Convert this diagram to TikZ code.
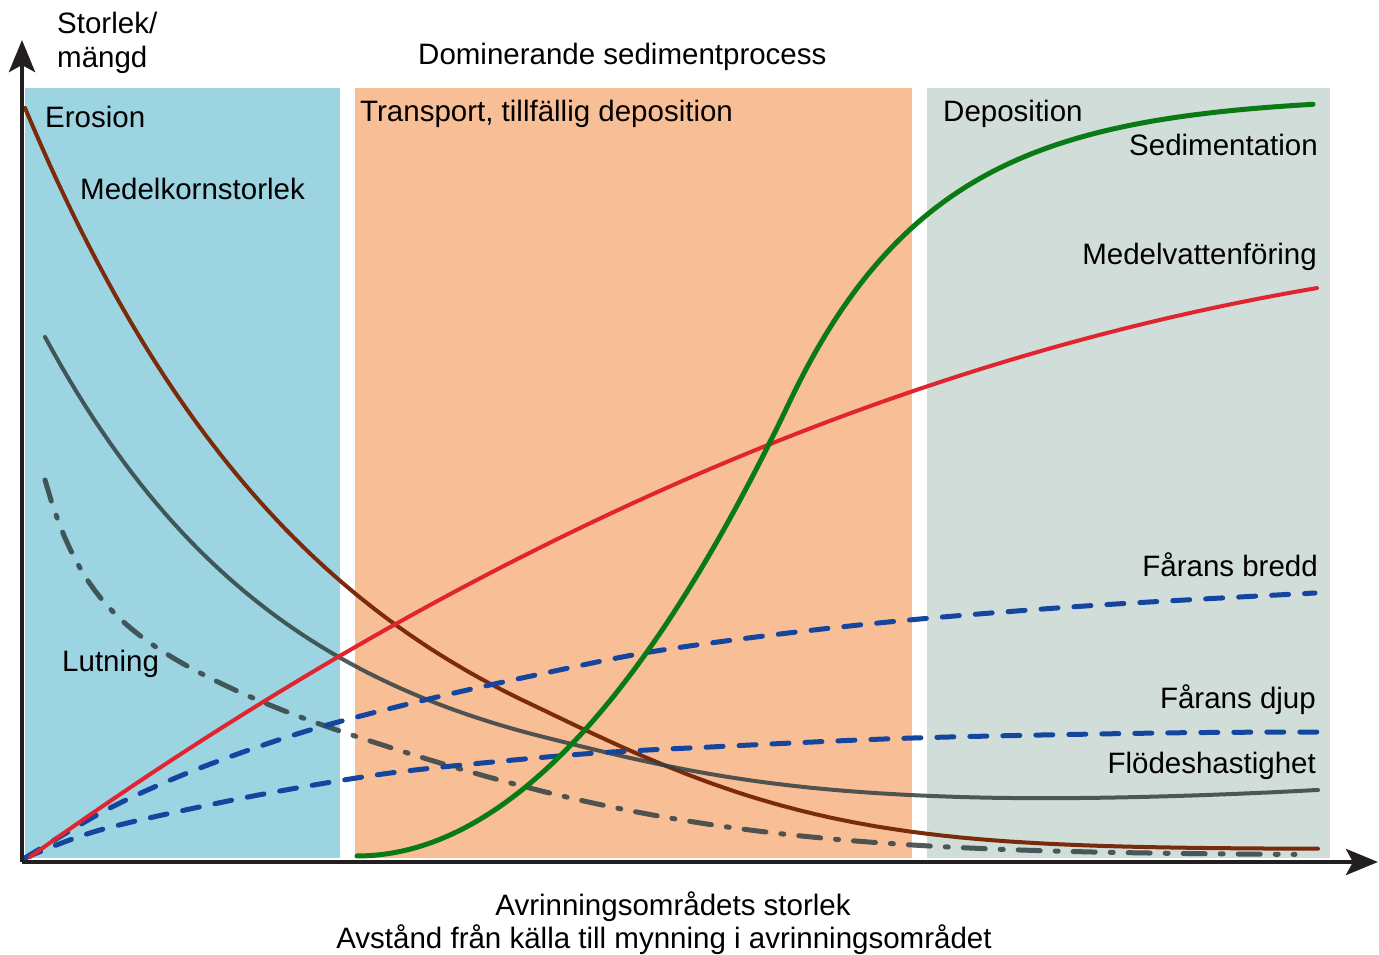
\documentclass[tikz,border=0pt]{standalone}
\usepackage{fontspec}
\setmainfont{Liberation Sans}
\usetikzlibrary{arrows.meta}
\definecolor{panelblue}{RGB}{157,212,225}
\definecolor{panelorange}{RGB}{248,191,150}
\definecolor{panelgray}{RGB}{209,221,216}
\definecolor{axiscol}{RGB}{35,31,32}
\definecolor{browncol}{RGB}{123,42,12}
\definecolor{slatecol}{RGB}{50,64,66}
\definecolor{redcol}{RGB}{224,36,48}
\definecolor{greencol}{RGB}{10,122,20}
\definecolor{bluecol}{RGB}{20,70,160}
\tikzset{
  lbl/.style={inner sep=0pt, font=\fontsize{29.5}{34}\selectfont, text=black},
  axisline/.style={draw=axiscol, line width=4.5pt, -{Stealth[length=32pt,width=26pt,inset=7pt]}},
  curve/.style={line width=4pt, line cap=round, line join=round},
  dashblue/.style={curve, draw=bluecol, line width=5pt, dash pattern=on 17pt off 16pt},
  dashdot/.style={curve, draw=slatecol, opacity=0.85, line width=5pt, dash pattern=on 22pt off 15pt on 3pt off 15pt},
}
\begin{document}
\begin{tikzpicture}[x=1pt,y=-1pt]
\useasboundingbox (0,0) rectangle (1379,955);
% panels
\fill[panelblue] (25,88) rectangle (340,858);
\fill[panelorange] (355,88) rectangle (912,858);
\fill[panelgray] (927,88) rectangle (1330,858);
% Medelkornstorlek
\draw[curve, draw=browncol] plot[domain=25:1318, samples=160, variable=\x] (\x, {849-741*exp(-((\x-25)/310+(max(\x-525,0)/408)^2))});
% Flodeshastighet
\draw[curve, draw=slatecol, opacity=0.85] plot[domain=45:1318, samples=160, variable=\x] (\x, {800-463*exp(-((\x-45)/250+(max(\x-545,0)/354)^2))-(max(\x-950,0)/116)^2});
% Lutning
\draw[dashdot] plot[domain=45:1295, samples=200, variable=\x] (\x, {855-100*exp(-min((\x-45)/35,15))-275*exp(-((\x-45)/370+(max(\x-345,0)/577)^2))});
% Farans bredd
\draw[dashblue] plot[smooth, tension=0.55] coordinates {(25,858) (110,808) (200,768) (310,730) (433,698) (550,672) (650,652) (780,634) (920,619) (1100,605) (1315,593)};
% Farans djup
\draw[dashblue] plot[smooth, tension=0.55] coordinates {(25,858) (100,830) (233,800) (350,779) (433,768) (583,754) (710,747) (913,738) (1160,733) (1320,732)};
% Medelvattenforing
\draw[curve, draw=redcol] plot[domain=30:1317, samples=120, variable=\x] (\x, {857-0.7146*(\x-30)+((\x-30)/68.72)^2});
% Sedimentation
\draw[curve, draw=greencol, line width=5pt] plot[domain=357:790, samples=100, variable=\x] (\x, {401+2.1015*(790-\x)-((790-\x)/20.30)^2}) -- plot[domain=790:1313, samples=120, variable=\x] (\x, {96+305*exp(-(\x-790)/145.2)});
% axes
\coordinate (O) at (22,862);
\coordinate (ytip) at (22,40);
\coordinate (xtip) at (1378,862);
\draw[axisline] (O) -- (ytip);
\draw[axisline] (O) -- (xtip);
% labels
\node[lbl, anchor=base west] (t1) at (57,34) {Storlek/};
\node[lbl, anchor=base west] (t2) at (57,68) {mängd};
\node[lbl, anchor=base west] (t3) at (418,65) {Dominerande sedimentprocess};
\node[lbl, anchor=base west] (t4) at (45,128) {Erosion};
\node[lbl, anchor=base west] (t5) at (360,122) {Transport, tillfällig deposition};
\node[lbl, anchor=base west] (t6) at (943,122) {Deposition};
\node[lbl, anchor=base west] (t7) at (80,199) {Medelkornstorlek};
\node[lbl, anchor=base east] (t8) at (1318,156) {Sedimentation};
\node[lbl, anchor=base east] (t9) at (1317,264) {Medelvattenföring};
\node[lbl, anchor=base east] (t10) at (1318,576) {Fårans bredd};
\node[lbl, anchor=base east] (t11) at (1316,708) {Fårans djup};
\node[lbl, anchor=base east] (t12) at (1316,773) {Flödeshastighet};
\node[lbl, anchor=base west] (t13) at (62,671) {Lutning};
\node[lbl, anchor=base] (t14) at (673,915) {Avrinningsområdets storlek};
\node[lbl, anchor=base] (t15) at (664,948) {Avstånd från källa till mynning i avrinningsområdet};
\end{tikzpicture}
\end{document}
